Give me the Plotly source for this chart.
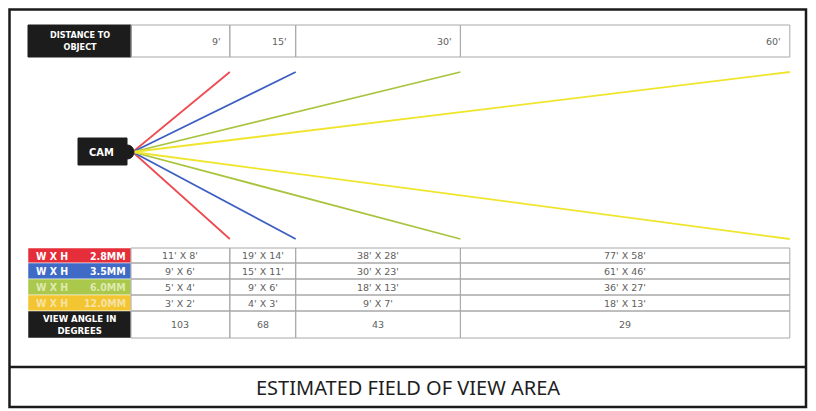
import plotly.graph_objects as go

# ---------------- data ----------------
distances = [9, 15, 30, 60]                      # feet
distance_labels = ["9'", "15'", "30'", "60'"]
lens_labels = ["2.8MM", "3.5MM", "6.0MM", "12.0MM"]
fov_sizes = [
    ["11' X 8'", "19' X 14'", "38' X 28'", "77' X 58'"],
    ["9' X 6'", "15' X 11'", "30' X 23'", "61' X 46'"],
    ["5' X 4'", "9' X 6'", "18' X 13'", "36' X 27'"],
    ["3' X 2'", "4' X 3'", "9' X 7'", "18' X 13'"],
]
view_angles = [103, 68, 43, 29]

# ---------------- styling / layout constants ----------------
row_fill = ["#e62e3a", "#3f6bc6", "#a9c84c", "#f3c530"]
row_text = ["#ffffff", "#ffffff", "#dfeab0", "#f6e2a6"]
line_colors = ["#ee4b52", "#3d5fc2", "#a8c43e", "#efe52c"]

PX_PER_FT = 10.98
X0_PX = 131
W, H = 816, 411
PAGE_OFF = 8              # page body margin offset
LABEL_X = -9.38           # left edge of label column (ft units)
TOP_TABLE = (25, 57)
CAM_Y = 152
CONE_TOP, CONE_BOT = 72, 239
ROW_EDGES = [248, 263, 279, 295, 311, 338]
FRAME = (9.5, 9.5, 806, 407)
DIVIDER_Y = 367

def px2ft(p):
    return (p - X0_PX) / PX_PER_FT

col_edges = [0] + distances
GRID = "#a8a8a8"
CELL_FONT = dict(family="DejaVu Sans, Arial", size=9.5, color="#606060")
BOLD_FONT = "DejaVu Sans Condensed, Liberation Sans Narrow, Arial"

fig = go.Figure()
shapes = []
ann = []

# ---------------- field of view lines ----------------
for d, c, lab in zip(distances, line_colors, lens_labels):
    fig.add_trace(go.Scatter(
        x=[d, 0.15, d], y=[CONE_TOP, CAM_Y, CONE_BOT],
        mode="lines", line=dict(color=c, width=1.8),
        name=lab, hoverinfo="skip", showlegend=False))

# ---------------- outer frame ----------------
fx0, fy0, fx1, fy1 = FRAME
shapes.append(dict(type="rect", xref="x", yref="y",
                   x0=px2ft(fx0), x1=px2ft(fx1), y0=fy0, y1=fy1,
                   line=dict(color="#1a1a1a", width=2.5)))
shapes.append(dict(type="line", xref="x", yref="y",
                   x0=px2ft(fx0), x1=px2ft(fx1), y0=DIVIDER_Y, y1=DIVIDER_Y,
                   line=dict(color="#1a1a1a", width=2.5)))

# ---------------- top table ----------------
t0, t1 = TOP_TABLE
shapes.append(dict(type="rect", xref="x", yref="y", x0=LABEL_X, x1=0,
                   y0=t0, y1=t1, fillcolor="#1c1c1c", line=dict(color="#1c1c1c", width=1)))
ann.append(dict(x=LABEL_X / 2, y=(t0 + t1) / 2, xref="x", yref="y",
                text="<b>DISTANCE TO<br>OBJECT</b>", showarrow=False,
                font=dict(family=BOLD_FONT, size=9, color="white")))
for i, d in enumerate(distances):
    shapes.append(dict(type="rect", xref="x", yref="y",
                       x0=col_edges[i], x1=d, y0=t0, y1=t1,
                       line=dict(color=GRID, width=1)))
    ann.append(dict(x=d - 0.6, y=(t0 + t1) / 2, xref="x", yref="y",
                    text=distance_labels[i], showarrow=False, xanchor="right",
                    font=CELL_FONT))

# ---------------- camera ----------------
shapes.append(dict(type="rect", xref="x", yref="y", x0=px2ft(78), x1=px2ft(127),
                   y0=CAM_Y - 14, y1=CAM_Y + 13, fillcolor="#1c1c1c",
                   line=dict(color="#1c1c1c", width=1), layer="above"))
shapes.append(dict(type="circle", xref="x", yref="y", x0=px2ft(121), x1=px2ft(134),
                   y0=CAM_Y - 7, y1=CAM_Y + 7, fillcolor="#1c1c1c",
                   line=dict(color="#1c1c1c", width=1), layer="above"))
ann.append(dict(x=px2ft(101), y=CAM_Y, xref="x", yref="y", text="<b>CAM</b>",
                showarrow=False, font=dict(family=BOLD_FONT, size=11, color="white")))

# ---------------- bottom table ----------------
for r in range(5):
    ya, yb = ROW_EDGES[r], ROW_EDGES[r + 1]
    ym = (ya + yb) / 2
    fill = row_fill[r] if r < 4 else "#1c1c1c"
    shapes.append(dict(type="rect", xref="x", yref="y", x0=LABEL_X, x1=0,
                       y0=ya, y1=yb, fillcolor=fill, line=dict(color="#ffffff", width=0.5)))
    if r < 4:
        ann.append(dict(x=LABEL_X + 0.55, y=ym, xref="x", yref="y", text="<b>W X H</b>",
                        showarrow=False, xanchor="left",
                        font=dict(family=BOLD_FONT, size=10.5, color=row_text[r])))
        ann.append(dict(x=-0.25, y=ym, xref="x", yref="y", text="<b>%s</b>" % lens_labels[r],
                        showarrow=False, xanchor="right",
                        font=dict(family=BOLD_FONT, size=10.5, color=row_text[r])))
    else:
        ann.append(dict(x=LABEL_X / 2, y=ym, xref="x", yref="y",
                        text="<b>VIEW ANGLE IN<br>DEGREES</b>", showarrow=False,
                        font=dict(family=BOLD_FONT, size=9.5, color="white")))
    for i, d in enumerate(distances):
        shapes.append(dict(type="rect", xref="x", yref="y",
                           x0=col_edges[i], x1=d, y0=ya, y1=yb,
                           line=dict(color=GRID, width=1)))
        txt = fov_sizes[r][i] if r < 4 else str(view_angles[i])
        ann.append(dict(x=(col_edges[i] + d) / 2, y=ym, xref="x", yref="y",
                        text=txt, showarrow=False, font=CELL_FONT))

# ---------------- footer ----------------
ann.append(dict(x=px2ft(W / 2), y=(DIVIDER_Y + fy1) / 2, xref="x", yref="y",
                text="ESTIMATED FIELD OF VIEW AREA", showarrow=False,
                font=dict(family="Noto Sans, Open Sans", size=20, color="#1e1e1e")))

fig.update_layout(
    width=W - PAGE_OFF, height=H - PAGE_OFF, margin=dict(l=0, r=0, t=0, b=0),
    paper_bgcolor="white", plot_bgcolor="white",
    shapes=shapes, annotations=ann, showlegend=False,
    xaxis=dict(range=[px2ft(PAGE_OFF), px2ft(W)], visible=False, fixedrange=True),
    yaxis=dict(range=[H, PAGE_OFF], visible=False, fixedrange=True),
)

fig.write_html("out.html")
